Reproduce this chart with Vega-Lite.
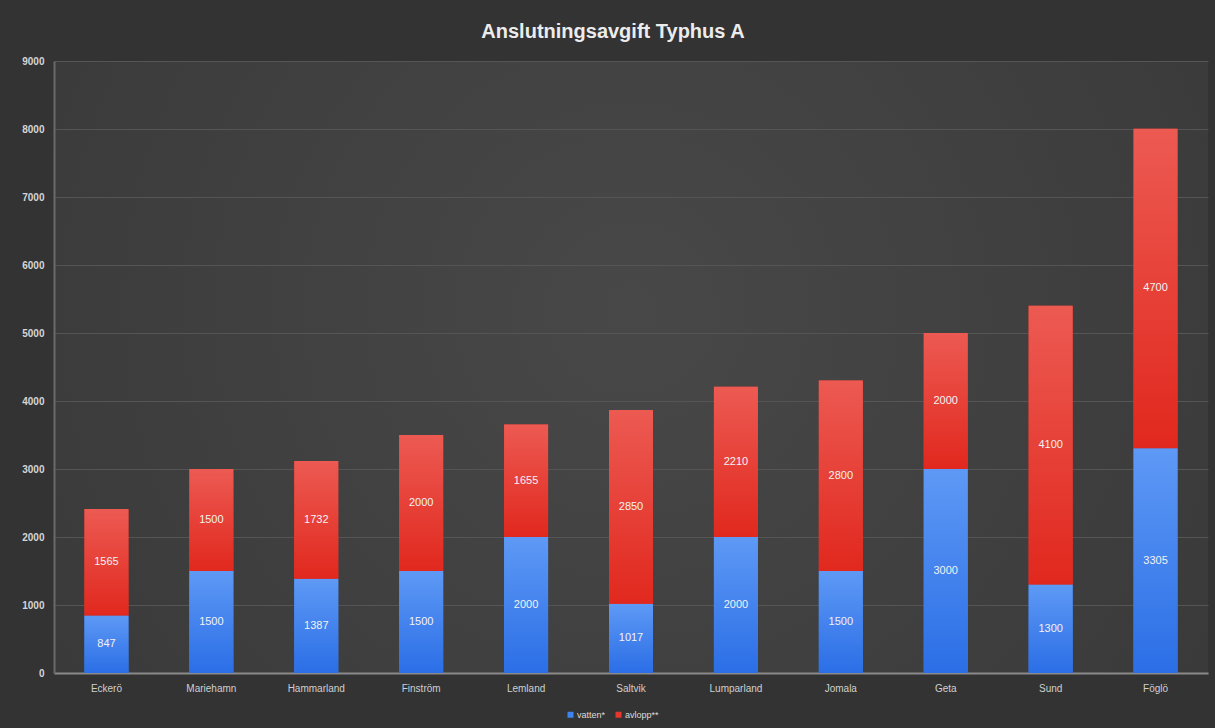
{
  "$schema": "https://vega.github.io/schema/vega-lite/v6.json",
  "width": 1154,
  "height": 612,
  "autosize": {"type": "none"},
  "padding": {"left": 54, "top": 61, "right": 7, "bottom": 55},
  "background": "#333333",
  "title": {
    "text": "Anslutningsavgift Typhus A",
    "color": "#ececec",
    "fontSize": 20,
    "font": "Liberation Sans",
    "fontWeight": "bold",
    "anchor": "middle",
    "baseline": "alphabetic",
    "offset": -2,
    "dx": -18
  },
  "config": {
    "view": {
      "stroke": null,
      "fill": {"gradient": "radial", "x1": 0.5, "y1": 0.45, "x2": 0.5, "y2": 0.45, "r1": 0, "r2": 0.75, "stops": [{"offset": 0, "color": "#484848"}, {"offset": 1, "color": "#363636"}]}
    },
    "font": "Liberation Sans"
  },
  "data": {
    "values": [
      {"kommun": "Eckerö", "typ": "vatten*", "ord": 1, "value": 847},
      {"kommun": "Eckerö", "typ": "avlopp**", "ord": 2, "value": 1565},
      {"kommun": "Mariehamn", "typ": "vatten*", "ord": 1, "value": 1500},
      {"kommun": "Mariehamn", "typ": "avlopp**", "ord": 2, "value": 1500},
      {"kommun": "Hammarland", "typ": "vatten*", "ord": 1, "value": 1387},
      {"kommun": "Hammarland", "typ": "avlopp**", "ord": 2, "value": 1732},
      {"kommun": "Finström", "typ": "vatten*", "ord": 1, "value": 1500},
      {"kommun": "Finström", "typ": "avlopp**", "ord": 2, "value": 2000},
      {"kommun": "Lemland", "typ": "vatten*", "ord": 1, "value": 2000},
      {"kommun": "Lemland", "typ": "avlopp**", "ord": 2, "value": 1655},
      {"kommun": "Saltvik", "typ": "vatten*", "ord": 1, "value": 1017},
      {"kommun": "Saltvik", "typ": "avlopp**", "ord": 2, "value": 2850},
      {"kommun": "Lumparland", "typ": "vatten*", "ord": 1, "value": 2000},
      {"kommun": "Lumparland", "typ": "avlopp**", "ord": 2, "value": 2210},
      {"kommun": "Jomala", "typ": "vatten*", "ord": 1, "value": 1500},
      {"kommun": "Jomala", "typ": "avlopp**", "ord": 2, "value": 2800},
      {"kommun": "Geta", "typ": "vatten*", "ord": 1, "value": 3000},
      {"kommun": "Geta", "typ": "avlopp**", "ord": 2, "value": 2000},
      {"kommun": "Sund", "typ": "vatten*", "ord": 1, "value": 1300},
      {"kommun": "Sund", "typ": "avlopp**", "ord": 2, "value": 4100},
      {"kommun": "Föglö", "typ": "vatten*", "ord": 1, "value": 3305},
      {"kommun": "Föglö", "typ": "avlopp**", "ord": 2, "value": 4700}
    ]
  },
  "transform": [
    {"stack": "value", "groupby": ["kommun"], "sort": [{"field": "ord"}], "as": ["y0", "y1"]}
  ],
  "encoding": {
    "x": {
      "field": "kommun",
      "type": "nominal",
      "sort": null,
      "scale": {"paddingInner": 0.58, "paddingOuter": 0.29},
      "axis": {
        "title": null,
        "labelAngle": 0,
        "labelColor": "#cfcfcf",
        "labelFontSize": 10,
        "labelPadding": 10,
        "ticks": false,
        "domainColor": "#8a8a8a",
        "domainWidth": 2,
        "grid": false
      }
    }
  },
  "layer": [
    {
      "mark": {"type": "bar", "width": 44},
      "encoding": {
        "y": {
          "field": "y0",
          "type": "quantitative",
          "scale": {"domain": [0, 9000], "nice": false},
          "axis": {
            "title": null,
            "format": "d",
            "values": [0, 1000, 2000, 3000, 4000, 5000, 6000, 7000, 8000, 9000],
            "labelColor": "#d6d6d6",
            "labelFontSize": 10,
            "labelFontWeight": "bold",
            "labelPadding": 10,
            "ticks": false,
            "domainColor": "#6a6a6a",
            "domainWidth": 2,
            "gridColor": "#555555",
            "gridWidth": 1
          }
        },
        "y2": {"field": "y1"},
        "color": {
          "field": "typ",
          "type": "nominal",
          "scale": {
            "domain": ["vatten*", "avlopp**"],
            "range": ["#3f84ee", "#e6372d"]
          },
          "legend": {
            "orient": "none",
            "legendX": 512,
            "legendY": 649,
            "direction": "horizontal",
            "title": null,
            "symbolType": "square",
            "symbolSize": 36,
            "symbolStrokeWidth": 0,
            "labelColor": "#dddddd",
            "labelFontSize": 9,
            "labelOffset": 2,
            "columnPadding": 8
          }
        }
      }
    },
    {
      "transform": [{"filter": "datum.typ === 'vatten*'"}],
      "mark": {
        "type": "bar",
        "width": 44,
        "color": {"gradient": "linear", "x1": 0, "y1": 0, "x2": 0, "y2": 1, "stops": [{"offset": 0, "color": "#5e99f5"}, {"offset": 1, "color": "#2b6ee6"}]}
      },
      "encoding": {
        "y": {"field": "y0", "type": "quantitative"},
        "y2": {"field": "y1"}
      }
    },
    {
      "transform": [{"filter": "datum.typ === 'avlopp**'"}],
      "mark": {
        "type": "bar",
        "width": 44,
        "color": {"gradient": "linear", "x1": 0, "y1": 0, "x2": 0, "y2": 1, "stops": [{"offset": 0, "color": "#ec5a52"}, {"offset": 1, "color": "#e1281e"}]}
      },
      "encoding": {
        "y": {"field": "y0", "type": "quantitative"},
        "y2": {"field": "y1"}
      }
    },
    {
      "transform": [
        {"calculate": "(datum.y0 + datum.y1) / 2", "as": "mid"}
      ],
      "mark": {"type": "text", "color": "#f2f2f2", "fontSize": 11, "baseline": "middle", "align": "center"},
      "encoding": {
        "y": {"field": "mid", "type": "quantitative"},
        "text": {"field": "value", "type": "quantitative"}
      }
    }
  ]
}
